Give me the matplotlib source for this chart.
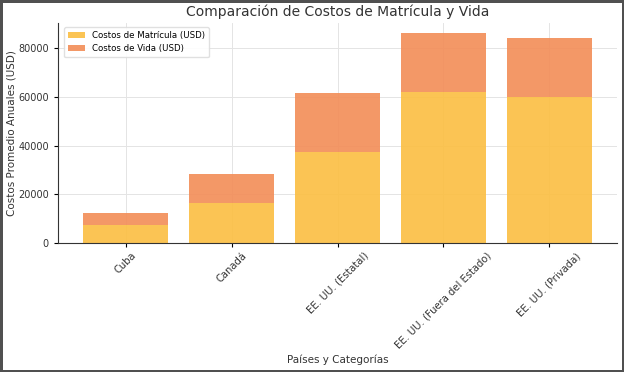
import matplotlib.pyplot as plt
import numpy as np

# datos
categorias = ['Cuba', 'Canadá', 'EE. UU. (Estatal)', 'EE. UU. (Fuera del Estado)', 'EE. UU. (Privada)']
matricula = [7500, 16500, 37500, 62000, 60000]
vida = [5000, 12000, 24000, 24000, 24000]

fig = plt.figure(figsize=(6.24, 3.72), dpi=100, edgecolor='#505050', linewidth=2.2)
ax = fig.add_axes([58/624, 1 - 243/372, (617-58)/624, (243-23)/372])

x = np.arange(len(categorias))
ax.bar(x, matricula, width=0.8, color='#fbbf45', alpha=0.92, label='Costos de Matrícula (USD)', zorder=2)
ax.bar(x, vida, width=0.8, bottom=matricula, color='#f38f5a', alpha=0.92, label='Costos de Vida (USD)', zorder=2)

ax.set_xticks(x)
ax.set_xticklabels(categorias, rotation=45, ha='center', fontsize=7.2, color='#333333')
ax.tick_params(axis='y', labelsize=7, labelcolor='#333333', length=3)
ax.tick_params(axis='x', length=3, pad=2.5)
ax.grid(True, color='#e4e4e4', linewidth=0.7, zorder=0)
ax.set_axisbelow(True)
for s in ['top', 'right']:
    ax.spines[s].set_visible(False)
for s in ['left', 'bottom']:
    ax.spines[s].set_color('#333333')

ax.set_title('Comparación de Costos de Matrícula y Vida', fontsize=10, color='#333333', pad=5)
ax.set_xlabel('Países y Categorías', fontsize=7.5, color='#333333', labelpad=3)
ax.set_ylabel('Costos Promedio Anuales (USD)', fontsize=7.5, color='#333333', labelpad=1.2)
ax.legend(loc='upper left', fontsize=6.2, framealpha=0.9, edgecolor='#dddddd', borderpad=0.45,
          bbox_to_anchor=(0.003, 1.0))

fig.savefig('out.png', dpi=100, edgecolor=fig.get_edgecolor())
